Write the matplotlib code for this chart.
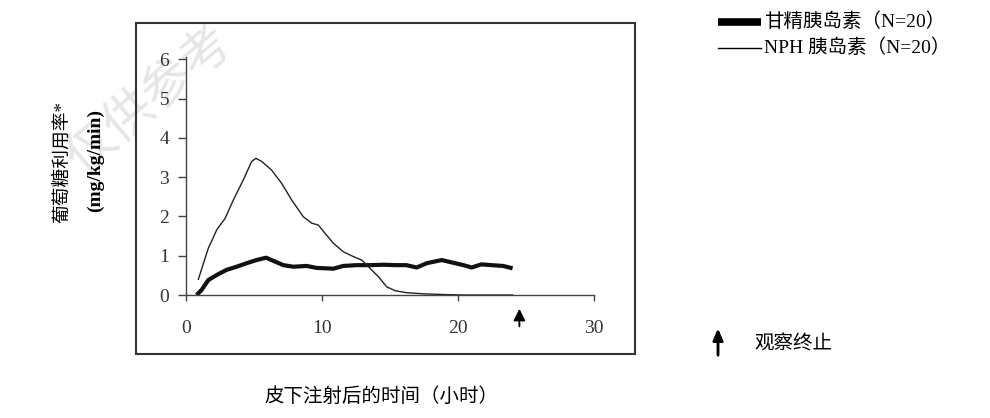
import matplotlib
matplotlib.use("Agg")
import matplotlib.pyplot as plt
from matplotlib.lines import Line2D
from matplotlib.patches import Rectangle

# data
nph_x = [0.93, 1.66, 2.28, 2.89, 3.5, 4.23, 4.84, 5.16, 5.58, 6.31, 7.05, 7.78, 8.64, 9.25,
         9.74, 10.23, 10.84, 11.57, 12.3, 12.92, 13.53, 14.14, 14.75, 15.37, 16.2, 17.45,
         19.16, 20.4, 24.0]
nph_y = [0.40, 1.19, 1.66, 1.95, 2.42, 2.93, 3.40, 3.48, 3.40, 3.18, 2.84, 2.42, 1.99, 1.83,
         1.78, 1.57, 1.32, 1.10, 0.98, 0.89, 0.68, 0.47, 0.21, 0.11, 0.06, 0.03,
         0.01, 0.0, 0.0]

glar_x = [0.8, 1.17, 1.66, 2.28, 3.0, 3.74, 4.48, 5.2, 5.9, 6.43, 7.17, 7.9, 8.88, 9.6,
          10.84, 11.57, 12.55, 13.5, 14.5, 15.5, 16.2, 16.96, 17.7, 18.8, 19.65, 20.4,
          21.0, 21.7, 22.46, 23.3, 24.0]
glar_y = [0.0, 0.13, 0.38, 0.51, 0.64, 0.72, 0.81, 0.89, 0.95, 0.87, 0.76, 0.72, 0.74, 0.69,
          0.67, 0.74, 0.76, 0.76, 0.77, 0.76, 0.76, 0.70, 0.81, 0.89, 0.82, 0.76,
          0.70, 0.78, 0.76, 0.74, 0.68]

x_ticks = [0, 10, 20, 30]
y_ticks = [0, 1, 2, 3, 4, 5, 6]
stop_time = 24.5

legend_labels = ["甘精胰岛素（N=20）", "NPH 胰岛素（N=20）"]
stop_label = "观察终止"
x_label = "皮下注射后的时间（小时）"
y_label_cn = "葡萄糖利用率*"
y_label_unit = "(mg/kg/min)"
watermark = "仅供参考"

FAM = ["Liberation Serif", "Noto Sans CJK SC", "DejaVu Sans"]
plt.rcParams["font.family"] = FAM

W, H = 990, 418


def px(x, y):
    return x / W, (H - y) / H


fig = plt.figure(figsize=(9.9, 4.18), dpi=100)

# faint watermark, kept behind everything
wx, wy = px(150, 100)
fig.text(wx, wy, watermark, fontsize=36, color="#e6e6e6", rotation=40,
         ha="center", va="center", family=["Noto Sans CJK SC"], fontweight="light",
         zorder=-5)

# outer frame
bx, by = px(136, 354)
fig.add_artist(Rectangle((bx, by), 499 / W, 331 / H, transform=fig.transFigure,
                         fill=False, edgecolor="#333333", linewidth=1.5))

ax = fig.add_axes([185.7 / W, (H - 295) / H, 408.6 / W, 238 / H])
ax.patch.set_alpha(0)
ax.plot(glar_x, glar_y, color="#111111", lw=3.0, solid_capstyle="butt")
ax.plot(nph_x, nph_y, color="#222222", lw=1.0)

ax.set_xlim(0, 30)
ax.set_ylim(0, 6.06)
ax.set_xticks(x_ticks)
ax.set_yticks(y_ticks)
for s in ["top", "right"]:
    ax.spines[s].set_visible(False)
for s in ["left", "bottom"]:
    ax.spines[s].set_color("#444444")
    ax.spines[s].set_linewidth(1.0)
ax.tick_params(axis="y", length=6, width=1.0, color="#444444", pad=6,
               labelsize=14, labelcolor="#333333")
ax.tick_params(axis="x", length=4, width=1.0, color="#444444", pad=14,
               labelsize=14, labelcolor="#333333")

# end-of-observation arrow
ax.annotate("", xy=(stop_time, -0.28), xytext=(stop_time, -0.87),
            xycoords="data", textcoords="data", annotation_clip=False,
            arrowprops=dict(arrowstyle="-|>,head_length=0.7,head_width=0.35",
                            color="black", lw=1.3))

# legend
lx0, ly = px(718, 22)
lx1, _ = px(761, 22)
fig.add_artist(Line2D([lx0, lx1], [ly, ly], transform=fig.transFigure,
                      color="black", lw=5.5, solid_capstyle="butt"))
tx, _ = px(764, 22)
fig.text(tx, ly, legend_labels[0], fontsize=14, va="center", ha="left")
_, ly2 = px(718, 48)
fig.add_artist(Line2D([lx0, lx1], [ly2, ly2], transform=fig.transFigure,
                      color="black", lw=1.0))
fig.text(tx, ly2, legend_labels[1], fontsize=14, va="center", ha="left")

ax0, ay0 = px(718, 358)
_, ay1 = px(718, 326)
fig.add_artist(plt.annotate("", xy=(ax0, ay1), xytext=(ax0, ay0), xycoords="figure fraction",
                            textcoords="figure fraction",
                            arrowprops=dict(arrowstyle="-|>,head_length=0.7,head_width=0.3",
                                            color="black", lw=1.8)))
sx, sy = px(754, 344)
fig.text(sx, sy, stop_label, fontsize=14, va="center", ha="left")

# axis labels
xlx, xly = px(381, 397)
fig.text(xlx, xly, x_label, fontsize=14, ha="center", va="center")
y1x, y1y = px(62, 162)
fig.text(y1x, y1y, y_label_cn, fontsize=13.5, rotation=90, ha="center", va="center")
y2x, y2y = px(95, 161)
fig.text(y2x, y2y, y_label_unit, fontsize=14, rotation=90, ha="center", va="center",
         fontweight="bold")

fig.savefig("out.png", dpi=100)
